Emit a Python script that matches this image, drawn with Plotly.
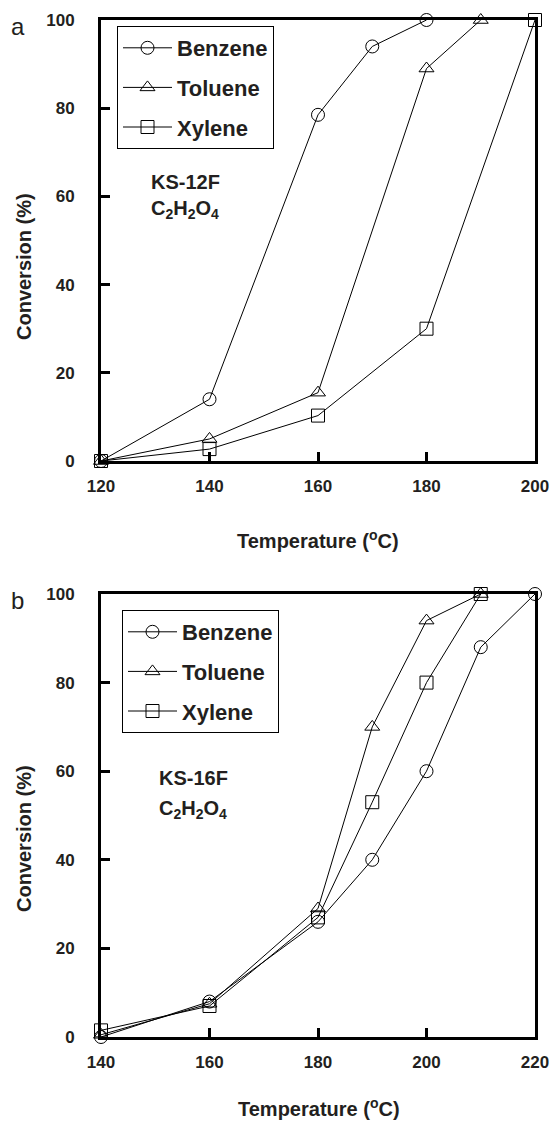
import plotly.graph_objects as go

# ---------------- data ----------------
temp_a = {
    "Benzene": [120, 140, 160, 170, 180],
    "Toluene": [120, 140, 160, 180, 190],
    "Xylene": [120, 140, 160, 180, 200],
}
conv_a = {
    "Benzene": [0, 14, 78.5, 94, 100],
    "Toluene": [0, 5, 15.5, 89, 100],
    "Xylene": [0, 2.7, 10.3, 30, 100],
}
temp_b = {
    "Benzene": [140, 160, 180, 190, 200, 210, 220],
    "Toluene": [140, 160, 180, 190, 200, 210],
    "Xylene": [140, 160, 180, 190, 200, 210],
}
conv_b = {
    "Benzene": [0, 8, 26, 40, 60, 88, 100],
    "Toluene": [0.5, 7.5, 29, 70, 94, 100],
    "Xylene": [1.5, 7, 27, 53, 80, 100],
}
symbols = {"Benzene": "circle-open", "Toluene": "triangle-up-open", "Xylene": "square-open"}
series = ["Benzene", "Toluene", "Xylene"]
xticks_a = [120, 140, 160, 180, 200]
xticks_b = [140, 160, 180, 200, 220]
yticks = [0, 20, 40, 60, 80, 100]

W, H = 550, 1121
FONT = "Liberation Sans, Arial, sans-serif"
TXT = "#231f20"

def px(x):
    return x / W

def py(y):
    return 1 - y / H

fig = go.Figure()

for s in series:
    fig.add_trace(go.Scatter(
        x=temp_a[s], y=conv_a[s], name=s, mode="lines+markers",
        line=dict(color="black", width=1),
        marker=dict(symbol=symbols[s], size=13, color="black", line=dict(color="black", width=1)),
        xaxis="x", yaxis="y", legend="legend", legendgroup="a" + s, cliponaxis=False,
    ))
for s in series:
    fig.add_trace(go.Scatter(
        x=temp_b[s], y=conv_b[s], name=s, mode="lines+markers",
        line=dict(color="black", width=1),
        marker=dict(symbol=symbols[s], size=13, color="black", line=dict(color="black", width=1)),
        xaxis="x2", yaxis="y2", legend="legend2", legendgroup="b" + s, cliponaxis=False,
    ))

axis_common = dict(
    showgrid=False, zeroline=False, showline=True, mirror=True, automargin=False,
    linecolor="black", linewidth=3, ticks="inside", ticklen=9, tickwidth=2.5,
    tickcolor="black", ticklabeloverflow="allow",
    tickfont=dict(family=FONT, size=17, color=TXT, weight="bold"),
)

legend_common = dict(
    xanchor="left", yanchor="top",
    bgcolor="white", bordercolor="black", borderwidth=1,
    font=dict(family=FONT, size=22, color=TXT, weight="bold"),
    tracegroupgap=8, itemwidth=49, traceorder="grouped",
    entrywidth=178, entrywidthmode="pixels",
)

fig.update_layout(
    template="none",
    width=W, height=H, autosize=False,
    margin=dict(l=0, r=0, t=0, b=0, pad=0),
    paper_bgcolor="white", plot_bgcolor="white",
    showlegend=True,
    xaxis=dict(domain=[px(101), px(535)], anchor="y", range=[120, 200],
               tickvals=xticks_a, ticklabelstandoff=8, **axis_common),
    yaxis=dict(domain=[py(461), py(20)], anchor="x", range=[0, 100],
               tickvals=yticks, ticklabelstandoff=20, **axis_common),
    xaxis2=dict(domain=[px(101), px(535)], anchor="y2", range=[140, 220],
                tickvals=xticks_b, ticklabelstandoff=8, **axis_common),
    yaxis2=dict(domain=[py(1037), py(594)], anchor="x2", range=[0, 100],
                tickvals=yticks, ticklabelstandoff=20, **axis_common),
    legend=dict(x=px(117), y=py(26), **legend_common),
    legend2=dict(x=px(122), y=py(610), **legend_common),
)

ann = []
def add_text(text, x, y, size, bold=True, xanchor="center", angle=0):
    t = f"<b>{text}</b>" if bold else text
    ann.append(dict(text=t, x=px(x), y=py(y), xref="paper", yref="paper",
                    xanchor=xanchor, yanchor="middle", showarrow=False, textangle=angle,
                    font=dict(family=FONT, size=size, color=TXT)))

add_text("a", 18, 26, 24, bold=False)
add_text("b", 17, 600, 24, bold=False)
add_text("Conversion (%)", 24, 267, 20, angle=-90)
add_text("Conversion (%)", 24, 839, 20, angle=-90)
add_text("Temperature (<sup>o</sup>C)", 318, 540, 20)
add_text("Temperature (<sup>o</sup>C)", 319, 1107, 20)
add_text("KS-12F", 149, 182, 20, xanchor="left")
add_text("C<sub>2</sub>H<sub>2</sub>O<sub>4</sub>", 149, 210, 20, xanchor="left")
add_text("KS-16F", 157, 778, 20, xanchor="left")
add_text("C<sub>2</sub>H<sub>2</sub>O<sub>4</sub>", 157, 809, 20, xanchor="left")
fig.update_layout(annotations=ann)

fig.write_html("out.html")
